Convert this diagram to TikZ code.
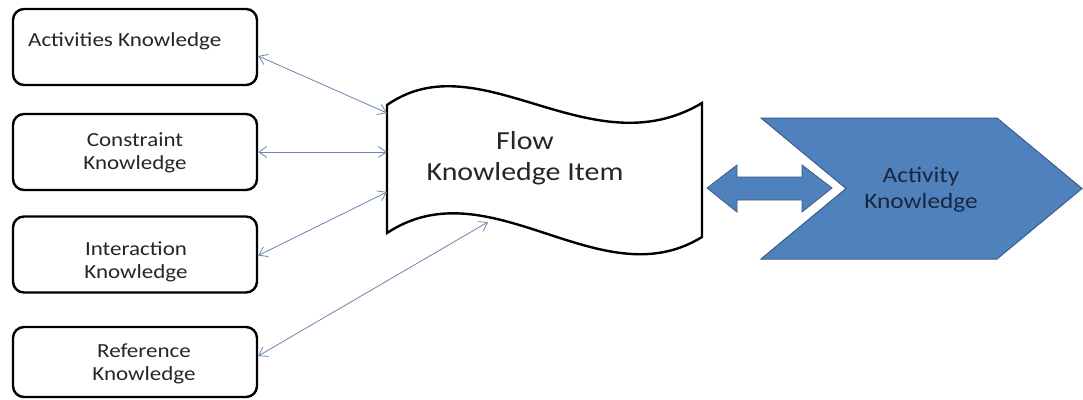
\documentclass[tikz,border=0pt]{standalone}
\usepackage{fontspec}
\setmainfont{Carlito}
\newfontfamily\labfont[FakeStretch=1.15]{Carlito}
\usetikzlibrary{arrows.meta}
\definecolor{linkblue}{RGB}{105,135,175}
\definecolor{fillblue}{RGB}{79,129,189}
\definecolor{edgeblue}{RGB}{56,93,138}
\definecolor{navytext}{RGB}{25,38,60}
\tikzset{
  kbox/.style={draw=black, line width=2.4pt, rounded corners=11pt,
    minimum width=244pt, minimum height=76pt, inner sep=0pt},
  ktext/.style={font=\labfont\fontsize{20}{23}\selectfont, align=center,
    inner sep=0pt, text=black!85},
  link/.style={draw=linkblue, line width=0.8pt,
    {Straight Barb[length=8pt,width=11pt]}-{Straight Barb[length=8pt,width=11pt]}},
}
\begin{document}
\begin{tikzpicture}[x=1pt,y=-1pt]
\useasboundingbox (0,0) rectangle (1083,399);
\fill[white] (0,0) rectangle (1083,399);

% knowledge boxes on the left
\node[kbox] (act) at (135,47) {};
\node[kbox] (con) at (135,152) {};
\node[kbox] (int) at (135,254.5) {};
\node[kbox, minimum height=70pt] (ref) at (135,362) {};

\node[ktext, anchor=west] (actt) at (28,41) {Activities Knowledge};
\node[ktext] (cont) at (135,153) {Constraint\\Knowledge};
\node[ktext] (intt) at (136,262) {Interaction\\Knowledge};
\node[ktext] (reft) at (144,364) {Reference\\Knowledge};

% wavy document shape
\draw[line width=2.4pt, line join=miter, fill=white]
  (387,105) .. controls (480,40) and (590,170) .. (702,103)
  -- (702,237)
  .. controls (600,300) and (490,165) .. (387,233) -- cycle;
\node[font=\labfont\fontsize{26}{31}\selectfont, align=center, inner sep=0pt,
  text=black!85] (flow) at (525,158) {Flow\\Knowledge Item};

% connector end points on the document edge
\coordinate (d1) at (387,113);
\coordinate (d2) at (387,152);
\coordinate (d3) at (387,192);
\coordinate (d4) at (488,222);

\draw[link] ([yshift=-9pt]act.east) -- (d1);
\draw[link] (con.east) -- (d2);
\draw[link] ([yshift=-1pt]int.east) -- (d3);
\draw[link] ([yshift=6pt]ref.east) -- (d4);

% block double arrow
\draw[fill=fillblue, draw=edgeblue, line width=0.8pt, line join=miter]
  (707,188) -- (737,165) -- (737,177) -- (802,177) -- (802,165) -- (832,188)
  -- (802,212) -- (802,200) -- (737,200) -- (737,212) -- cycle;

% chevron
\draw[fill=fillblue, draw=edgeblue, line width=1pt, line join=miter]
  (761,118) -- (997,118) -- (1082,188.5) -- (997,259) -- (761,259)
  -- (846,188.5) -- cycle;
\node[font=\labfont\fontsize{22}{26}\selectfont, align=center, inner sep=0pt,
  text=navytext] (actk) at (921,190) {Activity\\Knowledge};
\end{tikzpicture}
\end{document}
